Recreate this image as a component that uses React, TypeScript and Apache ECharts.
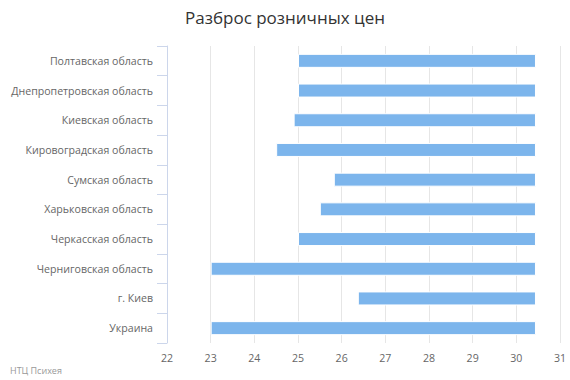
import React, { useEffect, useRef } from "react";
import * as echarts from "echarts";

const categories = [
  "Полтавская область",
  "Днепропетровская область",
  "Киевская область",
  "Кировоградская область",
  "Сумская область",
  "Харьковская область",
  "Черкасская область",
  "Черниговская область",
  "г. Киев",
  "Украина",
];
const minPrices = [25.0, 25.0, 24.9, 24.5, 25.82, 25.5, 25.0, 23.0, 26.37, 23.0];
const maxPrices = [30.45, 30.45, 30.45, 30.45, 30.45, 30.45, 30.45, 30.45, 30.45, 30.45];
const xTicks = [22, 23, 24, 25, 26, 27, 28, 29, 30, 31];

const FONT = "'Open Sans', sans-serif";

export default function App() {
  const ref = useRef<HTMLDivElement>(null);
  useEffect(() => {
    if (!ref.current) return;
    const chart = echarts.init(ref.current, undefined, { renderer: "svg" });
    chart.setOption({
      animation: false,
      backgroundColor: "#ffffff",
      title: {
        text: "Разброс розничных цен",
        left: "center",
        top: 4,
        textStyle: { fontFamily: FONT, fontSize: 17, fontWeight: "normal", color: "#333333" },
      },
      graphic: [
        {
          type: "text",
          left: 10,
          top: 366,
          style: { text: "НТЦ Психея", fontFamily: FONT, fontSize: 9, fill: "#999999" },
        },
      ],
      grid: { left: 167, right: 10, top: 46, bottom: 37, containLabel: false },
      xAxis: {
        type: "value",
        min: xTicks[0],
        max: xTicks[xTicks.length - 1],
        interval: 1,
        axisLine: { show: false },
        axisTick: { show: false },
        splitLine: { show: true, lineStyle: { color: "#e6e6e6", width: 1 } },
        axisLabel: { color: "#666666", fontFamily: FONT, fontSize: 10.6, margin: 9 },
      },
      yAxis: {
        type: "category",
        data: categories,
        inverse: true,
        axisLine: { show: true, lineStyle: { color: "#ccd6eb" } },
        axisTick: { show: true, length: 10, lineStyle: { color: "#ccd6eb" } },
        axisLabel: { color: "#666666", fontFamily: FONT, fontSize: 10.6, margin: 14 },
        splitLine: { show: false },
      },
      series: [
        {
          type: "bar",
          stack: "range",
          data: minPrices,
          itemStyle: { color: "transparent" },
          barWidth: 14,
          silent: true,
        },
        {
          type: "bar",
          stack: "range",
          data: maxPrices.map((v, i) => +(v - minPrices[i]).toFixed(2)),
          barWidth: 14,
          itemStyle: { color: "#7cb5ec", borderColor: "#ffffff", borderWidth: 1 },
        },
      ],
    });
    return () => chart.dispose();
  }, []);
  return (
    <div
      ref={ref}
      style={{ position: "fixed", left: 0, top: 0, width: 570, height: 380 }}
    />
  );
}
